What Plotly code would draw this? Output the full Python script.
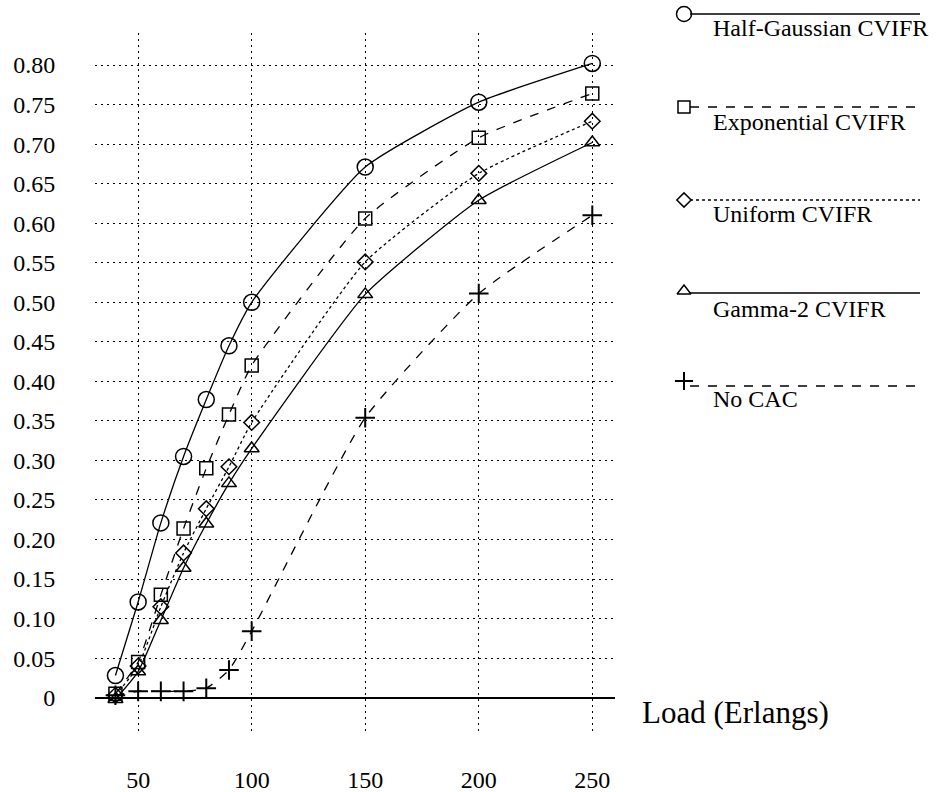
import plotly.graph_objects as go

# ---- data ----
loads = [40, 50, 60, 70, 80, 90, 100, 150, 200, 250]
half_gaussian = [0.028, 0.121, 0.221, 0.305, 0.377, 0.445, 0.500, 0.671, 0.753, 0.802]
exponential = [0.005, 0.045, 0.130, 0.214, 0.290, 0.358, 0.420, 0.606, 0.708, 0.764]
uniform = [0.003, 0.040, 0.115, 0.183, 0.239, 0.292, 0.348, 0.551, 0.663, 0.729]
gamma2 = [-0.002, 0.033, 0.098, 0.164, 0.220, 0.271, 0.315, 0.510, 0.629, 0.702]
no_cac = [0.003, 0.008, 0.008, 0.008, 0.012, 0.035, 0.084, 0.354, 0.511, 0.610]

series_names = ["Half-Gaussian CVIFR", "Exponential CVIFR", "Uniform CVIFR",
                "Gamma-2 CVIFR", "No CAC"]
series_values = [half_gaussian, exponential, uniform, gamma2, no_cac]
series_symbols = ["circle-open", "square-open", "diamond-open", "triangle-up-open", "cross-thin"]
series_dash = ["solid", "dash", "dot", "solid", "dash"]
series_msize = [16, 13, 12, 13, 14]

x_ticks = [50, 100, 150, 200, 250]
y_ticks = [0, 0.05, 0.10, 0.15, 0.20, 0.25, 0.30, 0.35, 0.40, 0.45, 0.50,
           0.55, 0.60, 0.65, 0.70, 0.75, 0.80]
y_ticktext = ["0"] + ["%.2f" % v for v in y_ticks[1:]]

W, H = 936, 792
FONT = "Liberation Serif"

fig = go.Figure()

for name, vals, sym, dash, ms in zip(series_names, series_values, series_symbols,
                                     series_dash, series_msize):
    fig.add_trace(go.Scatter(
        x=loads, y=vals, name=name, mode="lines+markers",
        line=dict(color="black", width=1.3, dash=dash, shape="spline", smoothing=0.5),
        marker=dict(symbol=sym, size=ms, color="black",
                    line=dict(color="black", width=1.5 if sym != "cross-thin" else 2)),
        xaxis="x", yaxis="y", showlegend=False,
    ))

# ---- custom legend (drawn in a separate hidden axis, pixel coordinates) ----
leg_line_y = [14, 107, 200, 293, 386]
leg_text_y = [28, 122, 214, 309, 399]
leg_marker_y = [14, 107, 200, 291, 381]
for name, sym, dash, ms, ly, ty, my in zip(series_names, series_symbols, series_dash,
                                           series_msize, leg_line_y, leg_text_y, leg_marker_y):
    fig.add_trace(go.Scatter(
        x=[690, 920], y=[ly, ly], mode="lines",
        line=dict(color="black", width=1.3, dash=dash),
        xaxis="x2", yaxis="y2", showlegend=False, hoverinfo="skip",
    ))
    fig.add_trace(go.Scatter(
        x=[684], y=[my], mode="markers",
        marker=dict(symbol=sym, size=ms - 1, color="black",
                    line=dict(color="black", width=1.5 if sym != "cross-thin" else 2)),
        xaxis="x2", yaxis="y2", showlegend=False, hoverinfo="skip",
    ))
    fig.add_annotation(x=711, y=ty, xref="x2", yref="y2", text=name, showarrow=False,
                       xanchor="left", yanchor="middle",
                       font=dict(family=FONT, size=24, color="black"))

fig.add_annotation(x=640 / W, y=1 - 712 / H, xref="paper", yref="paper",
                   text="Load (Erlangs)", showarrow=False, xanchor="left", yanchor="middle",
                   font=dict(family=FONT, size=31, color="black"))

fig.update_layout(
    width=W, height=H,
    margin=dict(l=0, r=0, t=0, b=0),
    paper_bgcolor="white", plot_bgcolor="rgba(0,0,0,0)",
    font=dict(family=FONT, size=24, color="black"),
    xaxis=dict(
        domain=[95 / W, 615 / W], range=[31, 260], anchor="y",
        tickvals=x_ticks, ticktext=[str(v) for v in x_ticks],
        showgrid=True, gridcolor="black", gridwidth=1, griddash="2px,4px",
        zeroline=False, showline=False,
        ticks="outside", ticklen=23, tickcolor="white",
        tickfont=dict(family=FONT, size=24, color="black"),
    ),
    yaxis=dict(
        domain=[1 - 735 / H, 1 - 33 / H], range=[-0.0472, 0.8405], anchor="x",
        tickvals=y_ticks, ticktext=y_ticktext,
        showgrid=True, gridcolor="black", gridwidth=1, griddash="2px,4px",
        zeroline=True, zerolinecolor="black", zerolinewidth=1.5, showline=False,
        ticks="outside", ticklen=34, tickcolor="white",
        tickfont=dict(family=FONT, size=24, color="black"),
    ),
    xaxis2=dict(domain=[640 / W, 1], range=[640, 936], anchor="y2", visible=False,
                fixedrange=True),
    yaxis2=dict(domain=[1 - 430 / H, 1], range=[430, 0], anchor="x2", visible=False,
                fixedrange=True),
    showlegend=False,
)

fig.write_html("out.html")
